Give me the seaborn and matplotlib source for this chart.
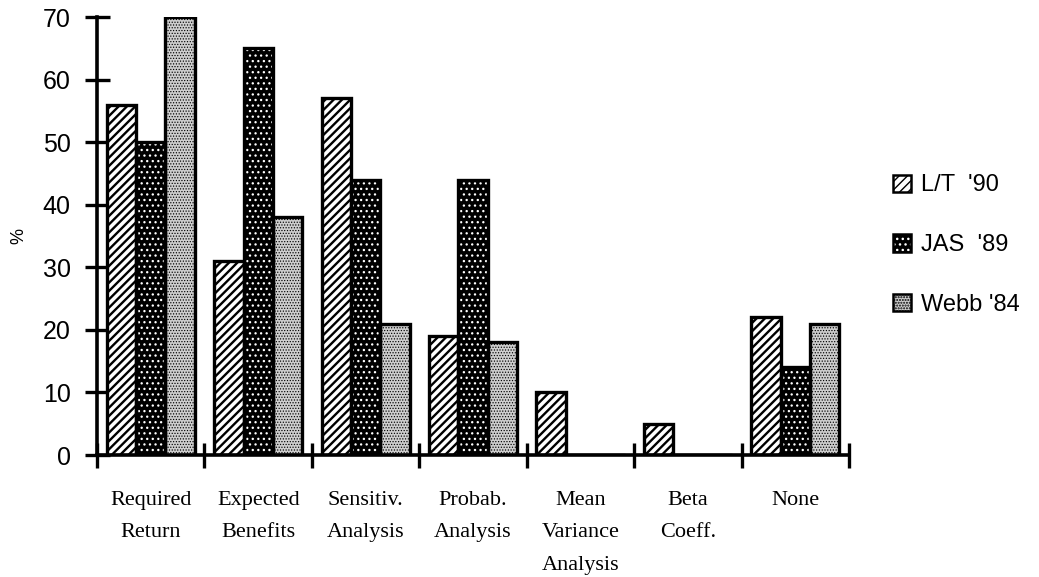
import numpy as np
import pandas as pd
import matplotlib
matplotlib.use("Agg")
import matplotlib.pyplot as plt
from matplotlib.patches import Patch, Rectangle
from matplotlib.legend_handler import HandlerTuple
import seaborn as sns

# Capital budgeting risk-analysis methods reported in three surveys (%)
categories = ["Required\nReturn", "Expected\nBenefits", "Sensitiv.\nAnalysis",
              "Probab.\nAnalysis", "Mean\nVariance\nAnalysis", "Beta\nCoeff.", "None"]
surveys = ["L/T  '90", "JAS  '89", "Webb '84"]
lt_90 = [56, 31, 57, 19, 10, 5, 22]
jas_89 = [50, 65, 44, 44, 0, 0, 14]
webb_84 = [70, 38, 21, 18, 0, 0, 21]
y_ticks = [0, 10, 20, 30, 40, 50, 60, 70]

sns.set_theme(style="white")
plt.rcParams["text.color"] = "black"

df = pd.DataFrame({
    "method": categories * len(surveys),
    "survey": [s for s in surveys for _ in categories],
    "pct": lt_90 + jas_89 + webb_84,
})

fills = {"L/T  '90": "white", "JAS  '89": "black", "Webb '84": "#cecece"}
# hatch pattern, hatch colour, hatch line width
patterns = {"L/T  '90": ("////", "black", 1.7),
            "JAS  '89": ("...", "white", 0.9),
            "Webb '84": ("......", "black", 0.55)}


def style_patch(p, name):
    hatch, hcol, hlw = patterns[name]
    p.set_hatch(hatch)
    p.set_edgecolor(hcol)
    p.set_linewidth(0)
    if hasattr(p, "set_hatch_linewidth"):
        p.set_hatch_linewidth(hlw)
    else:
        p._hatch_linewidth = hlw


fig = plt.figure(figsize=(10.39, 5.77), dpi=100)
ax = fig.add_axes([0.0934, 0.2114, 0.7238, 0.7591])

sns.barplot(data=df, x="method", y="pct", hue="survey", hue_order=surveys,
            palette=fills, width=0.82, saturation=1, legend=False, ax=ax)

# hatch textures, then a black outline drawn over every bar
for container, name in zip(ax.containers, surveys):
    for bar in container:
        style_patch(bar, name)
        ax.add_patch(Rectangle(bar.get_xy(), bar.get_width(), bar.get_height(),
                               fill=False, edgecolor="black", linewidth=2.4,
                               zorder=bar.get_zorder() + 0.1))

ax.set_xlim(-0.5, len(categories) - 0.5)
ax.set_ylim(0, 70)
ax.set_yticks(y_ticks)
ax.set_xticks(np.arange(-0.5, len(categories), 1.0))
ax.set_xticks(np.arange(len(categories)), minor=True)
ax.set_xticklabels(categories, minor=True, fontfamily="Liberation Serif",
                   fontsize=16, linespacing=1.95)
ax.set_xlabel("")
ax.set_ylabel("%", fontsize=13, fontfamily="Liberation Sans", color="black")
ax.yaxis.set_label_coords(-0.093, 0.5)

ax.tick_params(axis="x", which="major", bottom=True, direction="inout",
               length=18, width=2.4, color="black", labelbottom=False)
ax.tick_params(axis="x", which="minor", bottom=True, length=0, pad=26,
               labelcolor="black")
ax.tick_params(axis="y", left=True, direction="inout", length=18, width=2.4,
               color="black", pad=10, labelsize=18, labelcolor="black")
for lab in ax.get_yticklabels():
    lab.set_fontfamily("Liberation Sans")

sns.despine(ax=ax)
for side in ("left", "bottom"):
    ax.spines[side].set_linewidth(2.6)
    ax.spines[side].set_color("black")

# legend keys: textured swatch with a black frame on top
handles = []
for name in surveys:
    swatch = Patch(facecolor=fills[name])
    style_patch(swatch, name)
    frame = Patch(fill=False, edgecolor="black", linewidth=1.8)
    handles.append((swatch, frame))
fig.legend(handles, surveys, loc="center left",
           bbox_to_anchor=(0.8595, 0.575), frameon=False,
           prop={"family": "Liberation Sans", "size": 17},
           handler_map={tuple: HandlerTuple(ndivide=1, pad=0)},
           handlelength=0.75, handleheight=0.75, labelspacing=1.6,
           handletextpad=0.45, borderpad=0, borderaxespad=0,
           labelcolor="black")

fig.savefig("out.png", dpi=100)
